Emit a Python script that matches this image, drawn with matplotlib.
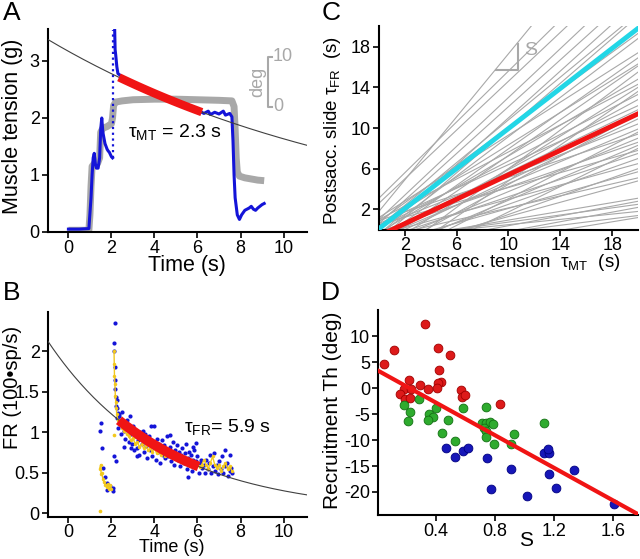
import numpy as np
import matplotlib
matplotlib.use("Agg")
import matplotlib.pyplot as plt

plt.rcParams['font.family'] = ['Liberation Sans', 'DejaVu Sans']
plt.rcParams['mathtext.fontset'] = 'custom'
plt.rcParams['mathtext.rm'] = 'Liberation Sans'
plt.rcParams['mathtext.it'] = 'Liberation Sans:italic'
plt.rcParams['axes.linewidth'] = 1.5

# ---------------- Panel A data ----------------
eye_t = [0, 0.5, 0.95, 1.0, 1.05, 1.1, 1.2, 1.35, 1.45, 1.5, 1.6, 1.8, 2.0, 2.05, 2.1, 2.2,
         2.5, 3.0, 4.0, 5.0, 6.0, 7.0, 7.6, 7.7, 7.75, 7.8, 7.85, 7.95, 8.2, 8.5, 8.8, 9.1]
eye_y = [0.03, 0.03, 0.03, 0.3, 0.8, 1.15, 1.2, 1.2, 1.3, 1.75, 1.82, 1.85, 1.9, 2.0, 2.22, 2.28,
         2.3, 2.32, 2.33, 2.33, 2.32, 2.31, 2.3, 2.2, 1.8, 1.3, 1.05, 0.98, 0.95, 0.93, 0.91, 0.9]

mt_pre_t = [0, 0.5, 0.95, 1.05, 1.1, 1.15, 1.2, 1.25, 1.3, 1.38, 1.45, 1.5, 1.55, 1.6, 1.7,
            1.8, 1.85, 1.9, 2.0, 2.05]
mt_pre_y = [0.05, 0.05, 0.06, 0.6, 1.0, 1.3, 1.38, 1.2, 1.12, 1.12, 1.3, 1.8, 2.0, 1.75, 1.55,
            1.45, 1.42, 1.4, 1.32, 1.3]
mt_jump_t = [2.08, 2.08]
mt_jump_y = [1.3, 3.55]
mt_post_t = [2.15, 2.17, 2.2, 2.25, 2.3, 2.4, 2.5, 2.7, 2.9, 3.1, 3.3, 3.5, 3.7, 3.9, 4.1, 4.3,
             4.5, 4.7, 4.9, 5.1, 5.3, 5.5, 5.7, 5.9, 6.1, 6.3, 6.5, 6.6, 6.8, 7.0, 7.2, 7.3, 7.5,
             7.6, 7.65, 7.7, 7.75, 7.85, 7.95, 8.05, 8.2, 8.4, 8.5, 8.6, 8.7, 8.8, 8.9, 9.0, 9.1]
mt_post_y = [3.55, 3.2, 3.1, 2.9, 2.78, 2.75, 2.72, 2.68, 2.62, 2.6, 2.55, 2.5, 2.45, 2.44, 2.38,
             2.35, 2.36, 2.3, 2.32, 2.28, 2.26, 2.22, 2.2, 2.18, 2.12, 2.08, 2.12, 2.06, 2.1, 2.07,
             2.12, 2.05, 2.08, 2.02, 1.6, 1.0, 0.6, 0.3, 0.22, 0.3, 0.38, 0.42, 0.45, 0.4, 0.38,
             0.42, 0.45, 0.48, 0.5]

mt_amp, mt_tau = 3.17, 15.1          # fitted exponential (A)
mt_fit_range = (2.35, 6.2)
deg_bar = (2.2, 3.07)                 # 0 .. 10 deg scale bar

# ---------------- Panel B data ----------------
fr_blue_t = [1.5, 1.47, 1.55, 1.62, 1.7, 1.78, 1.81, 1.93, 2.06, 2.09, 2.21, 2.13,
             2.16, 2.12, 2.14, 2.15, 2.16, 2.18, 2.2, 2.22, 2.24, 2.26, 2.3, 2.33, 2.36,
             2.25, 2.3, 2.35, 2.4, 2.45, 2.5, 2.55, 2.6, 2.65, 2.7, 2.75, 2.8, 2.85, 2.9, 2.95,
             3.0, 3.05, 3.1, 3.15, 3.2, 3.25, 3.3, 3.35, 3.4, 3.45, 3.5, 3.55, 3.6, 3.65, 3.7,
             3.75, 3.8, 3.85, 3.9, 3.95, 4.0, 4.05, 4.1, 4.15, 4.2, 4.25, 4.3, 4.35, 4.4, 4.45,
             4.5, 4.55, 4.6, 4.65, 4.7, 4.75, 4.8, 4.85, 4.9, 4.95, 5.0, 5.05, 5.1, 5.15, 5.2,
             5.25, 5.3, 5.35, 5.4, 5.45, 5.5, 5.55, 5.6, 5.65, 5.7, 5.75, 5.8, 5.85, 5.9, 5.95,
             6.0, 6.05, 6.1, 6.15, 6.2, 6.3, 6.35, 6.4, 6.5, 6.55, 6.6, 6.65, 6.7, 6.75, 6.8,
             6.9, 6.95, 7.0, 7.1, 7.15, 7.2, 7.3, 7.35, 7.4, 7.5, 7.55, 7.6,
             4.0, 4.7, 5.95, 5.8, 7.26, 7.5, 5.56, 3.48, 2.6, 2.9, 3.2]
fr_blue_y = [1.11, 1.01, 0.8, 0.56, 0.45, 0.37, 0.29, 0.33, 0.27, 0.31, 0.64, 0.7,
             2.35, 2.1, 2.0, 1.81, 1.65, 1.53, 1.44, 1.32, 1.4, 1.3, 1.24, 1.2, 1.15,
             1.18, 1.05, 1.22, 1.12, 0.98, 1.25, 1.1, 1.02, 0.92, 1.15, 1.05, 0.88, 1.2, 0.98, 0.85,
             1.08, 0.78, 0.95, 1.02, 0.8, 0.9, 0.72, 1.0, 0.86, 0.93, 0.75, 0.98, 0.83, 0.68, 0.9,
             0.95, 0.78, 1.08, 0.7, 0.88, 0.82, 0.66, 0.92, 0.75, 0.86, 0.62, 0.8, 0.9, 0.72, 0.84,
             0.68, 0.78, 0.95, 0.7, 0.82, 0.64, 0.75, 0.88, 0.6, 0.78, 0.7, 0.84, 0.66, 0.76, 0.58,
             0.72, 0.8, 0.62, 0.74, 0.86, 0.55, 0.68, 0.76, 0.6, 0.72, 0.52, 0.66, 0.78, 0.58, 0.64,
             0.7, 0.5, 0.62, 0.66, 0.56, 0.6, 0.5, 0.66, 0.55, 0.62, 0.72, 0.5, 0.58, 0.74, 0.52,
             0.6, 0.48, 0.64, 0.55, 0.7, 0.5, 0.58, 0.62, 0.46, 0.52, 0.56, 0.5,
             1.08, 0.97, 0.87, 0.82, 0.78, 0.72, 0.45, 1.01, 0.82, 0.8, 0.7]

fr_yel_pre_t = [1.45, 1.5, 1.52, 1.55, 1.6, 1.65, 1.7, 1.75, 1.8, 1.85, 1.9, 1.95, 2.0]
fr_yel_pre_y = [0.55, 0.6, 0.48, 0.5, 0.42, 0.38, 0.35, 0.35, 0.32, 0.36, 0.3, 0.35, 0.3]
fr_yel_iso_t = [1.47, 2.1]
fr_yel_iso_y = [0.03, 0.96]
fr_yel_t = [2.12, 2.13, 2.14, 2.16, 2.18, 2.2, 2.22, 2.25, 2.3, 2.4, 2.5, 2.6, 2.7, 2.8, 2.9,
            3.0, 3.1, 3.2, 3.3, 3.4, 3.5, 3.6, 3.7, 3.8, 3.9, 4.0, 4.1, 4.2, 4.3, 4.4, 4.5,
            4.6, 4.7, 4.8, 4.9, 5.0, 5.1, 5.2, 5.3, 5.4, 5.5, 5.6, 5.7, 5.8, 5.9, 6.0, 6.1,
            6.2, 6.3, 6.4, 6.5, 6.6, 6.7, 6.8, 6.9, 7.0, 7.1, 7.2, 7.3, 7.4, 7.5, 7.6]
fr_yel_y = [2.0, 1.85, 1.7, 1.6, 1.45, 1.38, 1.3, 1.22, 1.15, 1.1, 1.05, 1.02, 0.98, 0.95, 0.9,
            0.93, 0.86, 0.88, 0.82, 0.85, 0.8, 0.84, 0.78, 0.8, 0.76, 0.8, 0.74, 0.77, 0.72, 0.76, 0.7,
            0.78, 0.7, 0.74, 0.68, 0.72, 0.66, 0.7, 0.64, 0.68, 0.62, 0.66, 0.6, 0.64, 0.58, 0.62, 0.57,
            0.6, 0.66, 0.6, 0.55, 0.62, 0.7, 0.6, 0.56, 0.6, 0.52, 0.58, 0.62, 0.55, 0.58, 0.52]

fr_amp, fr_tau = 1.78, 5.36           # fitted exponential (B)
fr_fit_range = (2.35, 6.05)

# ---------------- Panel C data ----------------
c_slopes = [1.55, 1.25, 1.2, 1.2, 1.15, 1.15, 1.05, 1.1,
            0.925, 0.965, 0.81, 0.895, 0.795, 0.88, 0.755, 0.665, 0.8, 0.655, 0.69, 0.58,
            0.615, 0.605, 0.505, 0.535, 0.425, 0.525, 0.44, 0.54, 0.365, 0.425, 0.45, 0.35,
            0.45, 0.36, 0.295, 0.35, 0.215, 0.24, 0.175, 0.235, 0.13, 0.16, 0.21,
            0.695, 0.95, 0.88, 0.655, 0.625]
c_icpts = [1.8, 3.1, 2.6, 1.0, 0.6, -0.5, 0.3, -1.0,
           0.8, -0.5, 1.2, -1.0, 0.4, -1.5, -0.3, 1.0, -2.0, 0.2, -1.0, 0.6,
           -0.5, -1.2, 0.3, -0.8, 0.9, -1.5, -0.2, -2.5, 0.5, -1.0, -2.0, -0.5,
           -3.0, -1.5, -0.8, -2.2, -1.2, -2.0, -1.0, -2.5, -0.8, -1.8, -3.0,
           -2.5, -3.5, -4.0, -3.5, -4.5]
unity_slope, unity_icpt = 0.985, 0.1
mean_slope, mean_icpt = 0.6, -0.6
c_x = [0, 20]

# ---------------- Panel D data ----------------
d_red_s = [0.052, 0.115, 0.326, 0.416, 0.496, 0.422, 0.438, 0.416, 0.41, 0.295, 0.344, 0.22,
           0.182, 0.232, 0.16, 0.194, 0.227, 0.568, 0.577, 0.595, 0.833]
d_red_th = [4.6, 7.4, 12.4, 7.8, 6.3, 3.4, 1.2, 0.9, 0.1, 0.7, -0.1, 1.5,
            -0.1, -0.1, -1.2, -2.0, -1.9, -0.3, -1.8, -1.4, -3.0]
d_grn_s = [0.182, 0.286, 0.227, 0.213, 0.355, 0.378, 0.348, 0.404, 0.481, 0.445, 0.532, 0.586,
           0.741, 0.71, 0.741, 0.768, 0.79, 0.725, 0.743, 0.741, 0.795, 1.135, 0.928, 0.912]
d_grn_th = [-3.2, -2.0, -4.5, -6.3, -5.0, -5.5, -6.2, -3.9, -6.2, -8.6, -10.2, -3.9,
            -3.7, -6.7, -6.7, -6.6, -7.0, -7.7, -8.3, -9.5, -10.8, -6.7, -8.8, -10.7]
d_blu_s = [0.47, 0.53, 0.586, 0.615, 0.748, 0.775, 0.911, 1.017, 1.136, 1.167, 1.163, 1.167,
           1.212, 1.335, 1.605]
d_blu_th = [-11.5, -13.2, -12.1, -11.5, -13.4, -19.4, -15.5, -20.8, -12.4, -12.5, -11.8, -16.5,
            -19.2, -15.8, -22.4]
d_slope, d_icpt = -15.7, 3.5

# ---------------- colours ----------------
BLUE = '#1414d8'
RED = '#f01414'
GRAY = '#a8a8a8'
CYAN = '#22d6e6'
YEL = '#f2c81e'

fig = plt.figure(figsize=(6.4, 5.59), dpi=100)
axA = fig.add_axes([0.075, 0.585, 0.405, 0.363])
axB = fig.add_axes([0.075, 0.075, 0.405, 0.367])
axC = fig.add_axes([0.592, 0.589, 0.405, 0.364])
axD = fig.add_axes([0.591, 0.079, 0.406, 0.366])

TFS = 13
for ax in (axA, axB, axC, axD):
    for s in ('top', 'right'):
        ax.spines[s].set_visible(False)
    ax.tick_params(direction='out', length=4, width=1.2, labelsize=TFS, pad=2)
axC.tick_params(axis='x', pad=1)
axB.tick_params(axis='x', pad=1)

# ---- A ----
axA.plot(eye_t, eye_y, color=GRAY, lw=5, solid_capstyle='butt', zorder=2)
axA.plot(mt_pre_t, mt_pre_y, color=BLUE, lw=2.2, zorder=3)
axA.plot(mt_jump_t, mt_jump_y, color=BLUE, lw=1.6, ls=(0, (1, 1.6)), zorder=3)
axA.plot(mt_post_t, mt_post_y, color=BLUE, lw=2.2, zorder=3)
tt = np.linspace(-0.95, 11.1, 200)
axA.plot(tt, mt_amp * np.exp(-tt / mt_tau), color='#404040', lw=0.8, zorder=4)
tf = np.linspace(*mt_fit_range, 60)
axA.plot(tf, mt_amp * np.exp(-tf / mt_tau), color=RED, lw=6, solid_capstyle='butt', zorder=5)
axA.plot([9.45, 9.3, 9.3, 9.45], [deg_bar[1], deg_bar[1], deg_bar[0], deg_bar[0]],
         color=GRAY, lw=1.5)
axA.text(9.5, deg_bar[1], '10', color=GRAY, fontsize=13, va='center', ha='left')
axA.text(9.5, deg_bar[0], '0', color=GRAY, fontsize=13, va='center', ha='left')
axA.text(8.8, np.mean(deg_bar), 'deg', color=GRAY, fontsize=13, va='center', ha='center',
         rotation=90)
axA.text(2.75, 1.75, r'τ$_{\mathrm{MT}}$ = 2.3 s', fontsize=14, va='center', ha='left')
axA.set_xlim(-0.95, 11.1)
axA.set_ylim(0, 3.56)
axA.set_xticks([0, 2, 4, 6, 8, 10])
axA.set_yticks([0, 1, 2, 3])
axA.set_xlabel('Time (s)', fontsize=15.5)
axA.set_ylabel('Muscle tension (g)', fontsize=15.5)
axA.xaxis.set_label_coords(0.537, -0.115)
axA.yaxis.set_label_coords(-0.097, 0.52)

# ---- B ----
axB.scatter(fr_blue_t, fr_blue_y, s=9, color=BLUE, linewidths=0, zorder=3)
axB.plot(fr_yel_pre_t, fr_yel_pre_y, color=YEL, lw=1.0, marker='o', ms=2.5, mew=0, zorder=4)
axB.plot(fr_yel_t, fr_yel_y, color=YEL, lw=1.0, marker='o', ms=2.5, mew=0, zorder=4)
axB.scatter(fr_yel_iso_t, fr_yel_iso_y, s=7, color=YEL, linewidths=0, zorder=4)
tt = np.linspace(-0.95, 11.1, 200)
axB.plot(tt, fr_amp * np.exp(-tt / fr_tau), color='#404040', lw=0.8, zorder=5)
tf = np.linspace(*fr_fit_range, 60)
axB.plot(tf, fr_amp * np.exp(-tf / fr_tau), color=RED, lw=7, solid_capstyle='butt', zorder=6)
axB.text(5.35, 1.07, r'τ$_{\mathrm{FR}}$= 5.9 s', fontsize=14, va='center', ha='left')
axB.set_xlim(-0.95, 11.1)
axB.set_ylim(-0.05, 2.49)
axB.set_xticks([0, 2, 4, 6, 8, 10])
axB.set_yticks([0, 0.5, 1, 1.5, 2])
axB.set_yticklabels(['0', '0.5', '1', '1.5', '2'])
axB.set_xlabel('Time (s)', fontsize=13)
axB.set_ylabel('FR (100•sp/s)', fontsize=14.5)
axB.xaxis.set_label_coords(0.478, -0.105)
axB.yaxis.set_label_coords(-0.1, 0.63)

# ---- C ----
cx = np.array(c_x, dtype=float)
for sl, b in zip(c_slopes, c_icpts):
    axC.plot(cx, sl * cx + b, color=GRAY, lw=0.8, zorder=2)
axC.plot(cx, unity_slope * cx + unity_icpt, color=CYAN, lw=3.5, zorder=3)
axC.plot(cx, mean_slope * cx + mean_icpt, color=RED, lw=3.5, zorder=3)
axC.plot([9.05, 10.7, 10.7], [15.7, 15.7, 18.3], color=GRAY, lw=1.5, zorder=4)
axC.text(11.2, 17.6, 'S', color=GRAY, fontsize=14, va='center', ha='left')
axC.set_xlim(0, 20)
axC.set_ylim(0, 20)
axC.set_xticks([2, 6, 10, 14, 18])
axC.set_yticks([2, 6, 10, 14, 18])
axC.set_xlabel(r'Postsacc. tension  τ$_{\mathrm{MT}}$  (s)', fontsize=13.5)
axC.set_ylabel(r'Postsacc. slide τ$_{\mathrm{FR}}$  (s)', fontsize=13.5)
axC.xaxis.set_label_coords(0.514, -0.108)
axC.yaxis.set_label_coords(-0.14, 0.49)

# ---- D ----
axD.scatter(d_red_s, d_red_th, s=40, color='#dd1a1a', edgecolors='#a00000', linewidths=0.6, zorder=3)
axD.scatter(d_grn_s, d_grn_th, s=40, color='#2eab2e', edgecolors='#137013', linewidths=0.6, zorder=3)
axD.scatter(d_blu_s, d_blu_th, s=40, color='#1616b8', edgecolors='#000080', linewidths=0.6, zorder=3)
dx = np.array([0.01, 1.78])
axD.plot(dx, d_slope * dx + d_icpt, color=RED, lw=3, zorder=4)
axD.set_xlim(0.01, 1.77)
axD.set_ylim(-24.4, 15)
axD.set_xticks([0.4, 0.8, 1.2, 1.6])
axD.set_yticks([10, 5, 0, -5, -10, -15, -20])
axD.set_yticklabels(['10', '5', '0', '-5', '-10', '-15', '-20'])
axD.set_xlabel('S', fontsize=15)
axD.set_ylabel('Recruitment Th (deg)', fontsize=15)
axD.xaxis.set_label_coords(0.57, -0.08)
axD.yaxis.set_label_coords(-0.138, 0.51)

# panel letters
fig.text(0.004, 0.998, 'A', fontsize=19, va='top', ha='left')
fig.text(0.502, 0.998, 'C', fontsize=19, va='top', ha='left')
fig.text(0.004, 0.497, 'B', fontsize=19, va='top', ha='left')
fig.text(0.502, 0.497, 'D', fontsize=19, va='top', ha='left')

fig.savefig('out.png', dpi=100)
